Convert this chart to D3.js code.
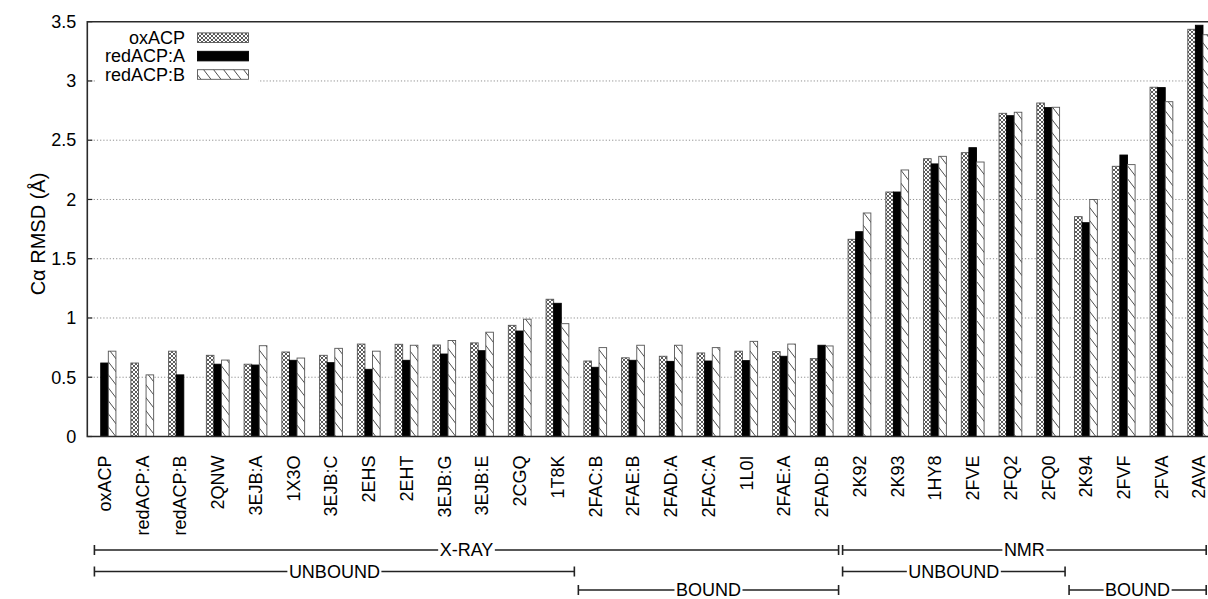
<!DOCTYPE html>
<html>
<head>
<meta charset="utf-8">
<script src="https://cdn.jsdelivr.net/npm/d3@7"></script>
<style>
  html, body { margin: 0; padding: 0; background: #fff; }
  svg { display: block; }
  text { font-family: "Liberation Sans", Arial, Helvetica, sans-serif; fill: #000; }
</style>
</head>
<body>
<svg id="chart" width="1208" height="599"></svg>
<script>
// Structures compared (one group per structure)
const categories = ["oxACP", "redACP:A", "redACP:B", "2QNW", "3EJB:A", "1X3O", "3EJB:C", "2EHS", "2EHT",
  "3EJB:G", "3EJB:E", "2CGQ", "1T8K", "2FAC:B", "2FAE:B", "2FAD:A", "2FAC:A", "1L0I", "2FAE:A", "2FAD:B",
  "2K92", "2K93", "1HY8", "2FVE", "2FQ2", "2FQ0", "2K94", "2FVF", "2FVA", "2AVA"];

// Cα RMSD (Å) against each reference model; null = self comparison (no bar)
const oxACP = [null, 0.62, 0.72, 0.685, 0.61, 0.713, 0.685, 0.78, 0.778, 0.772, 0.79, 0.938, 1.158,
  0.637, 0.664, 0.677, 0.705, 0.72, 0.716, 0.657,
  1.664, 2.063, 2.344, 2.395, 2.727, 2.814, 1.855, 2.28, 2.947, 3.436];
const redACP_A = [0.62, null, 0.52, 0.61, 0.603, 0.643, 0.623, 0.567, 0.643, 0.696, 0.724, 0.89, 1.124,
  0.584, 0.643, 0.634, 0.637, 0.64, 0.677, 0.77,
  1.728, 2.063, 2.3, 2.437, 2.707, 2.775, 1.804, 2.375, 2.944, 3.47];
const redACP_B = [0.72, 0.52, null, 0.645, 0.766, 0.662, 0.744, 0.72, 0.77, 0.81, 0.88, 0.99, 0.952,
  0.75, 0.77, 0.77, 0.75, 0.803, 0.78, 0.764,
  1.886, 2.249, 2.364, 2.316, 2.736, 2.778, 2.0, 2.294, 2.825, 3.39];

const seriesNames = ["oxACP", "redACP:A", "redACP:B"];
const seriesValues = [oxACP, redACP_A, redACP_B];
const seriesFills = ["url(#cross)", "#000", "url(#hatch)"];

const yTicks = [0, 0.5, 1, 1.5, 2, 2.5, 3, 3.5];

// Method / binding-state brackets under the category labels
const groupLabels = ["X-RAY", "NMR", "UNBOUND", "BOUND", "UNBOUND", "BOUND"];
const groupFrom   = ["oxACP", "2K92", "oxACP", "2FAC:B", "2K92", "2K94"];
const groupTo     = ["2FAD:B", "2AVA", "1T8K", "2FAD:B", "2FQ0", "2AVA"];
const groupRow    = [0, 0, 1, 2, 1, 2];

const svg = d3.select("#chart");
const margin = { left: 87.3, top: 21.7, bottom: 436.5, right: 1216.4 };

const defs = svg.append("defs");
const cross = defs.append("pattern").attr("id", "cross")
  .attr("patternUnits", "userSpaceOnUse").attr("width", 4).attr("height", 4);
cross.append("rect").attr("width", 4).attr("height", 4).attr("fill", "#fff");
cross.append("path").attr("d", "M-1,-1L5,5M5,-1L-1,5")
  .attr("stroke", "#333").attr("stroke-width", 0.8);

const hatch = defs.append("pattern").attr("id", "hatch")
  .attr("patternUnits", "userSpaceOnUse").attr("width", 10).attr("height", 13);
hatch.append("rect").attr("width", 10).attr("height", 13).attr("fill", "#fff");
hatch.append("path").attr("d", "M-1,-1.3L11,14.3M-11,-1.3L1,14.3M9,-1.3L21,14.3")
  .attr("stroke", "#3a3a3a").attr("stroke-width", 0.9);

const x = d3.scaleBand().domain(categories)
  .range([margin.left, margin.right]).paddingInner(0.396).paddingOuter(0.154);
const xs = d3.scaleBand().domain(seriesNames).range([0, x.bandwidth()]);
const y = d3.scaleLinear().domain([0, 3.5]).range([margin.bottom, margin.top]);

// Grid
svg.append("g").selectAll("line").data(yTicks.filter(t => t > 0 && t < 3.5)).join("line")
  .attr("x1", margin.left).attr("x2", margin.right)
  .attr("y1", d => y(d)).attr("y2", d => y(d))
  .attr("stroke", "#8f8f8f").attr("stroke-width", 1).attr("stroke-dasharray", "1.2,2");

// Bars
const bars = svg.append("g");
seriesNames.forEach((name, s) => {
  const vals = seriesValues[s];
  bars.append("g").selectAll("rect")
    .data(categories.map((c, i) => ({ c, v: vals[i] })).filter(d => d.v != null))
    .join("rect")
    .attr("x", d => x(d.c) + xs(name))
    .attr("width", xs.bandwidth())
    .attr("y", d => y(d.v))
    .attr("height", d => y(0) - y(d.v))
    .attr("fill", seriesFills[s])
    .attr("stroke", s === 1 ? "#000" : "#555")
    .attr("stroke-width", 0.9);
});

// Frame and y axis
const yAxis = d3.axisLeft(y).tickValues(yTicks).tickSize(0).tickPadding(11)
  .tickFormat(d3.format("~g"));
const ya = svg.append("g").attr("transform", `translate(${margin.left},0)`).call(yAxis);
ya.select(".domain").remove();
ya.selectAll("text").attr("font-size", 18).attr("font-family", "Liberation Sans, Arial, sans-serif")
  .attr("fill", "#000");
svg.append("g").selectAll("line").data(yTicks).join("line")
  .attr("x1", margin.left).attr("x2", margin.left + 5)
  .attr("y1", d => y(d)).attr("y2", d => y(d))
  .attr("stroke", "#222").attr("stroke-width", 1.2);
svg.append("path")
  .attr("d", `M${margin.right},${margin.top}H${margin.left}V${margin.bottom}H${margin.right}`)
  .attr("fill", "none").attr("stroke", "#2a2a2a").attr("stroke-width", 1.6);

svg.append("text")
  .attr("transform", "translate(38,234) rotate(-90)")
  .attr("text-anchor", "middle").attr("dy", "0.35em").attr("font-size", 20)
  .text("Cα RMSD (Å)");

// Category labels
svg.append("g").selectAll("text").data(categories).join("text")
  .attr("transform", d => `translate(${x(d) + x.bandwidth() / 2},${margin.bottom + 19}) rotate(-90)`)
  .attr("text-anchor", "end").attr("dy", "0.35em").attr("font-size", 18)
  .text(d => d);

// Legend
const legend = svg.append("g");
legend.append("rect").attr("x", 96).attr("y", 27).attr("width", 162).attr("height", 58).attr("fill", "#fff");
seriesNames.forEach((name, s) => {
  const cy = 37.7 + s * 18.4;
  legend.append("text").attr("x", 185).attr("y", cy).attr("dy", "0.35em")
    .attr("text-anchor", "end").attr("font-size", 18).text(name);
  legend.append("rect").attr("x", 197.5).attr("y", cy - 4.8).attr("width", 51).attr("height", 9.6)
    .attr("fill", seriesFills[s]).attr("stroke", s === 1 ? "#000" : "#555").attr("stroke-width", 0.9);
});

// Brackets
const rowY = [550, 571.5, 590];
const center = c => x(c) + x.bandwidth() / 2;
const brackets = svg.append("g");
groupLabels.forEach((label, g) => {
  const i0 = categories.indexOf(groupFrom[g]);
  const i1 = categories.indexOf(groupTo[g]);
  const x0 = i0 === 0 ? x(categories[0]) + 1.3
    : (center(categories[i0 - 1]) + center(categories[i0])) / 2 + 2;
  const x1 = i1 === categories.length - 1 ? center(categories[i1]) + 7
    : (center(categories[i1]) + center(categories[i1 + 1])) / 2 - 2;
  const yy = rowY[groupRow[g]];
  const bg = brackets.append("g");
  bg.append("path")
    .attr("d", `M${x0},${yy}H${x1}M${x0},${yy - 5}V${yy + 5}M${x1},${yy - 5}V${yy + 5}`)
    .attr("stroke", "#222").attr("stroke-width", 1.6).attr("fill", "none");
  const t = bg.append("text").attr("x", (x0 + x1) / 2).attr("y", yy).attr("dy", "0.35em")
    .attr("text-anchor", "middle").attr("font-size", 18).text(label);
  const bb = t.node().getBBox();
  bg.insert("rect", "text").attr("x", bb.x - 1.5).attr("y", yy - 3).attr("width", bb.width + 3)
    .attr("height", 6).attr("fill", "#fff");
});
</script>
</body>
</html>
